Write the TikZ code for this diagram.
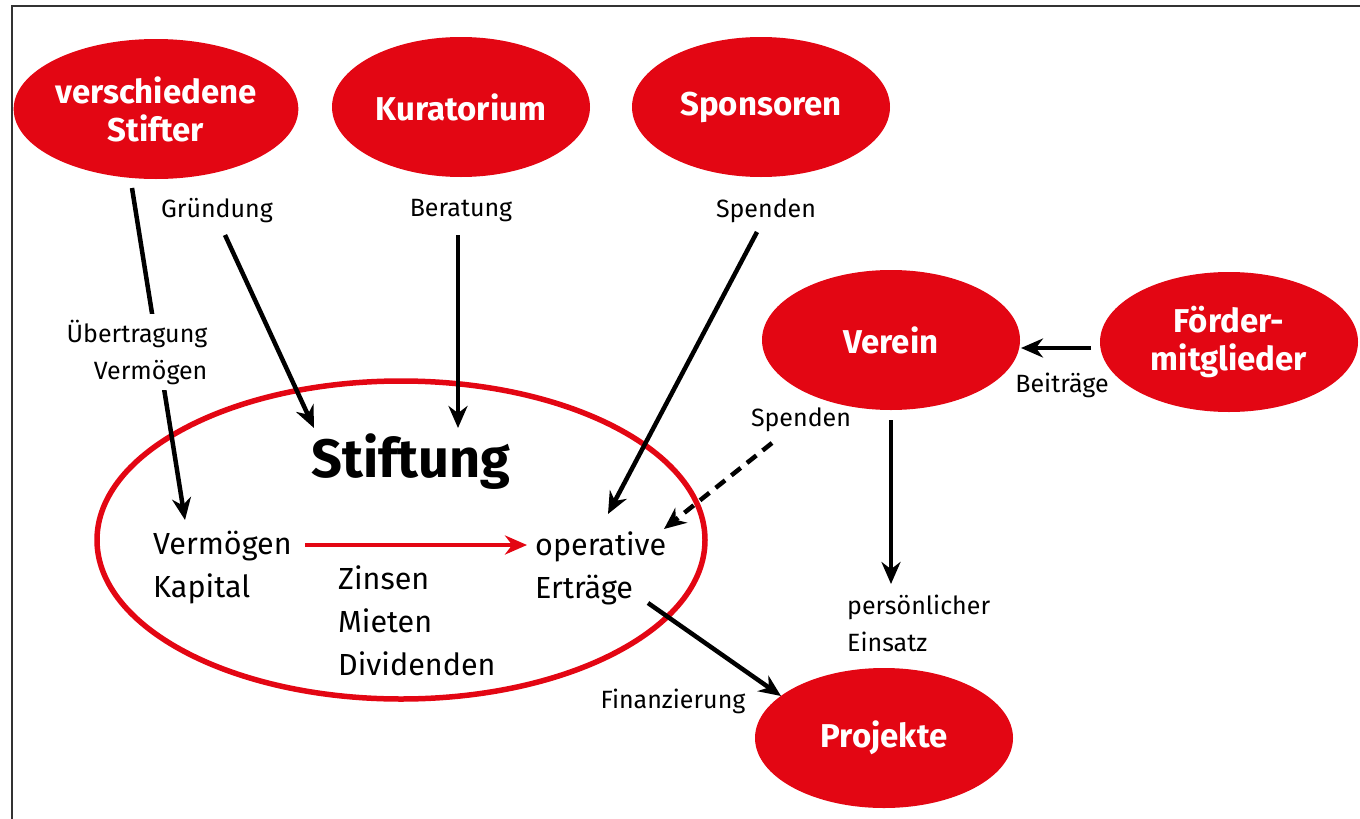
\documentclass[tikz,border=0pt]{standalone}
\usepackage{fontspec}
\setmainfont{Fira Sans}
\usetikzlibrary{shapes.geometric, arrows.meta}
\definecolor{stiftred}{HTML}{E30613}

\tikzset{
  blob/.style={ellipse, fill=stiftred, text=white, minimum width=258, minimum height=140,
    inner sep=0pt, align=center, font=\fontsize{33}{38}\selectfont\bfseries},
  lbl/.style={font=\fontsize{25}{37}\selectfont, inner sep=2pt},
  inner/.style={font=\fontsize{30.5}{43}\selectfont, align=left, anchor=west, inner sep=0pt},
  flow/.style={-{Stealth[length=22pt, width=19pt]}, line width=4.5pt}
}

\begin{document}
\begin{tikzpicture}[x=1pt,y=-1pt]
\useasboundingbox (0,0) rectangle (1360,819);
\draw[line width=1.5pt, black!80] (12,819) -- (12,6) -- (1360,6);

% outer actors
\node[blob] (stifter) at (156,109) {verschiedene\\Stifter};
\node[blob] (kuratorium) at (461,107) {Kuratorium};
\node[blob] (sponsoren) at (761,107) {Sponsoren};
\node[blob] (verein) at (891,340) {Verein};
\node[blob] (foerder) at (1229,342) {F\"order-\\mitglieder};
\node[blob] (projekte) at (884,738) {Projekte};

% the foundation
\draw[stiftred, line width=5.5pt] (401,540) ellipse [x radius=304, y radius=159];
\node[font=\fontsize{54}{54}\selectfont\bfseries] (stiftung) at (411,462) {Stiftung};
\node[inner] (vermoegen) at (153,568) {Verm\"ogen\\Kapital};
\node[inner] (ertraege) at (535,568) {operative\\Ertr\"age};
\node[inner] (zinsen) at (338,621) {Zinsen\\Mieten\\Dividenden};
\draw[-{Stealth[length=22pt, width=19pt]}, stiftred, line width=4.5pt] (305,545) -- (527,545);

% free ends
\coordinate (s1) at (132,188);
\coordinate (s2) at (185,520);
\coordinate (g1) at (225,235);
\coordinate (g2) at (314,428);
\coordinate (b1) at (458,235);
\coordinate (b2) at (458,428);
\coordinate (sp1) at (757,232);
\coordinate (sp2) at (608,514);
\coordinate (d1) at (772,443);
\coordinate (d2) at (664,529);
\coordinate (v1) at (891,420);
\coordinate (v2) at (891,584);
\coordinate (f1) at (1091,348);
\coordinate (f2) at (1021,348);
\coordinate (e1) at (648,603);
\coordinate (e2) at (781,696);

\draw[flow] (s1) -- (s2);
\node[lbl, fill=white, align=right, inner sep=6pt] (uebertragung) at (137,352) {\"Ubertragung\\Verm\"ogen};
\draw[flow] (g1) -- (g2);
\draw[flow] (b1) -- (b2);
\draw[flow] (sp1) -- (sp2);
\draw[flow, dash pattern=on 12pt off 8pt] (d1) -- (d2);
\draw[flow] (v1) -- (v2);
\draw[flow] (f1) -- (f2);
\draw[flow] (e1) -- (e2);

% labels
\node[lbl] (gruendung) at (217,211) {Gr\"undung};
\node[lbl] (beratung) at (461,211) {Beratung};
\node[lbl] (spenden) at (766,211) {Spenden};
\node[lbl] (spenden2) at (801,420) {Spenden};
\node[lbl] (beitraege) at (1062,385) {Beitr\"age};
\node[lbl, align=left, anchor=west] (einsatz) at (845,623) {pers\"onlicher\\Einsatz};
\node[lbl] (finanzierung) at (673,701) {Finanzierung};
\end{tikzpicture}
\end{document}
